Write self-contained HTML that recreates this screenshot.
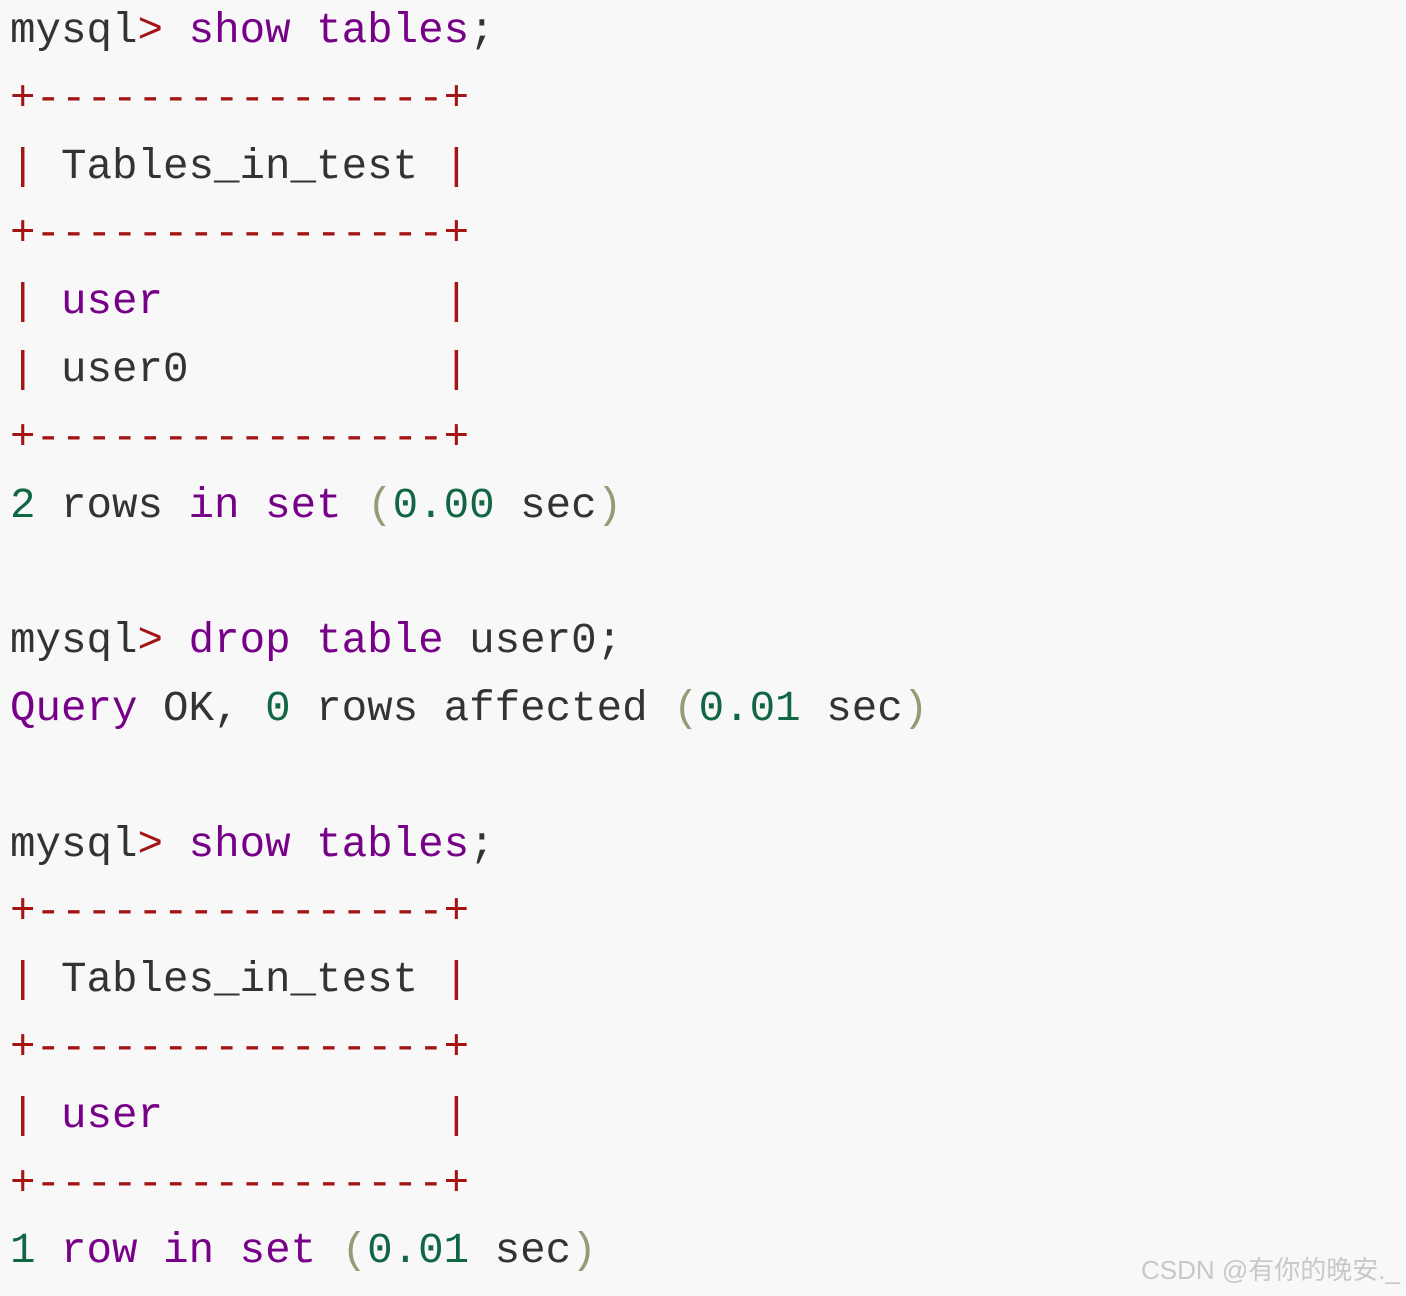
<!DOCTYPE html>
<html><head><meta charset="utf-8"><style>
html,body{margin:0;padding:0;width:1406px;height:1296px;overflow:hidden;background:#f8f8f8;}
pre{margin:0;position:absolute;left:10px;top:-2px;font-family:"Liberation Mono",monospace;font-size:42.5px;line-height:67.8px;color:#333;}
.r{color:#a31515}.k{color:#770088}.n{color:#116644}.p{color:#999977}
.wm{position:absolute;right:6px;top:1250px;font-family:"Liberation Sans","Noto Sans CJK SC",sans-serif;font-size:26px;color:#c8c8c8;}
</style></head><body>
<pre>mysql<span class="r">&gt;</span> <span class="k">show</span> <span class="k">tables</span>;
<span class="r">+----------------+</span>
<span class="r">|</span> Tables_in_test <span class="r">|</span>
<span class="r">+----------------+</span>
<span class="r">|</span> <span class="k">user</span>           <span class="r">|</span>
<span class="r">|</span> user0          <span class="r">|</span>
<span class="r">+----------------+</span>
<span class="n">2</span> rows <span class="k">in</span> <span class="k">set</span> <span class="p">(</span><span class="n">0.00</span> sec<span class="p">)</span>

mysql<span class="r">&gt;</span> <span class="k">drop</span> <span class="k">table</span> user0;
<span class="k">Query</span> OK, <span class="n">0</span> rows affected <span class="p">(</span><span class="n">0.01</span> sec<span class="p">)</span>

mysql<span class="r">&gt;</span> <span class="k">show</span> <span class="k">tables</span>;
<span class="r">+----------------+</span>
<span class="r">|</span> Tables_in_test <span class="r">|</span>
<span class="r">+----------------+</span>
<span class="r">|</span> <span class="k">user</span>           <span class="r">|</span>
<span class="r">+----------------+</span>
<span class="n">1</span> <span class="k">row</span> <span class="k">in</span> <span class="k">set</span> <span class="p">(</span><span class="n">0.01</span> sec<span class="p">)</span></pre>
<div class="wm">CSDN @有你的晚安._</div>
</body></html>
